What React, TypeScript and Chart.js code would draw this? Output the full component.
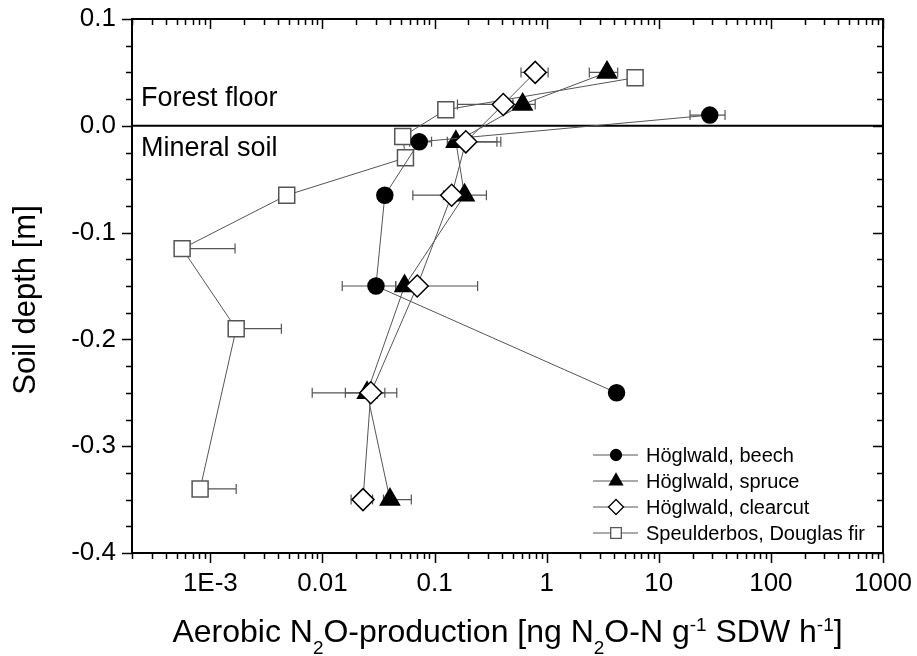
import React, { useEffect, useRef } from 'react';
import { Chart, registerables } from 'chart.js';

Chart.register(...registerables);

const FONT = '"Liberation Sans", Arial, Helvetica, sans-serif';

// ---- Data (x = aerobic N2O production, y = soil depth) ----
const DEPTH_BEECH = [0.01, -0.015, -0.065, -0.15, -0.25];
const N2O_BEECH = [28.5, 0.073, 0.036, 0.03, 4.2];
const LO_BEECH = [19, 0.06, null, 0.015, null];
const HI_BEECH = [39, 0.094, null, 0.045, null];

const DEPTH_SPRUCE = [0.05, 0.02, -0.015, -0.065, -0.15, -0.25, -0.35];
const N2O_SPRUCE = [3.45, 0.61, 0.155, 0.185, 0.054, 0.025, 0.04];
const LO_SPRUCE = [2.4, 0.5, 0.13, 0.064, 0.045, 0.0081, 0.035];
const HI_SPRUCE = [4.3, 0.79, 0.36, 0.29, 0.065, 0.046, 0.062];

const DEPTH_CLEAR = [0.05, 0.02, -0.015, -0.065, -0.15, -0.25, -0.35];
const N2O_CLEAR = [0.79, 0.41, 0.19, 0.142, 0.07, 0.027, 0.023];
const LO_CLEAR = [0.59, 0.16, 0.15, 0.12, 0.05, 0.016, 0.018];
const HI_CLEAR = [1.03, 0.5, 0.39, 0.17, 0.242, 0.036, 0.028];

const DEPTH_DOUG = [0.045, 0.015, -0.01, -0.03, -0.065, -0.115, -0.19, -0.34];
const N2O_DOUG = [6.15, 0.126, 0.052, 0.055, 0.0048, 0.00056, 0.0017, 0.00081];
const LO_DOUG = [5.5, 0.11, 0.045, 0.05, 0.0045, 0.0005, 0.0015, 0.0007];
const HI_DOUG = [6.8, 0.14, 0.06, 0.06, 0.0052, 0.00166, 0.0043, 0.0017];

const SERIES_NAMES = ['Höglwald, beech', 'Höglwald, spruce', 'Höglwald, clearcut', 'Speulderbos, Douglas fir'];

const X_TICKS = [0.001, 0.01, 0.1, 1, 10, 100, 1000];
const X_TICK_LABELS = ['1E-3', '0.01', '0.1', '1', '10', '100', '1000'];
const Y_TICKS = [0.1, 0, -0.1, -0.2, -0.3, -0.4];
const Y_TICK_LABELS = ['0.1', '0.0', '-0.1', '-0.2', '-0.3', '-0.4'];
const X_MIN = 2e-4;
const X_MAX = 1000;
const Y_MIN = -0.4;
const Y_MAX = 0.1;
const Y_MINOR_STEP = 0.025;

const ZONE_LABELS = ['Forest floor', 'Mineral soil'];
const Y_TITLE = 'Soil depth [m]';
// x title with sub/superscripts
const X_TITLE_PARTS: [string, 'n' | 'sub' | 'sup'][] = [
  ['Aerobic N', 'n'], ['2', 'sub'], ['O-production [ng N', 'n'], ['2', 'sub'],
  ['O-N g', 'n'], ['-1', 'sup'], [' SDW h', 'n'], ['-1', 'sup'], [']', 'n'],
];

const LINE_GRAY = '#555';

function pts(xs: number[], ys: number[]) {
  return xs.map((v, i) => ({ x: v, y: ys[i] }));
}

function drawMarker(ctx: CanvasRenderingContext2D, style: string, x: number, y: number, r: number, fill: string, stroke: string, lw: number) {
  ctx.beginPath();
  if (style === 'circle') {
    ctx.arc(x, y, r, 0, Math.PI * 2);
  } else if (style === 'triangle') {
    for (let k = 0; k < 3; k++) {
      const a = (k * 2 * Math.PI) / 3;
      const px = x + Math.sin(a) * r;
      const py = y - Math.cos(a) * r;
      if (k === 0) ctx.moveTo(px, py); else ctx.lineTo(px, py);
    }
    ctx.closePath();
  } else if (style === 'rectRot') {
    ctx.moveTo(x - r, y); ctx.lineTo(x, y - r); ctx.lineTo(x + r, y); ctx.lineTo(x, y + r); ctx.closePath();
  } else {
    const s = Math.SQRT1_2 * r;
    ctx.rect(x - s, y - s, 2 * s, 2 * s);
  }
  ctx.fillStyle = fill;
  ctx.fill();
  ctx.lineWidth = lw;
  ctx.strokeStyle = stroke;
  ctx.stroke();
}

const decorPlugin = {
  id: 'decor',
  beforeDatasetsDraw(chart: any) {
    const { ctx, chartArea: a, scales } = chart;
    const xs = scales.x, ys = scales.y;
    ctx.save();
    // error bars
    chart.data.datasets.forEach((ds: any) => {
      ds.data.forEach((p: any, i: number) => {
        const lo = ds.errLo[i], hi = ds.errHi[i];
        if (lo == null || hi == null) return;
        const py = ys.getPixelForValue(p.y);
        const xl = xs.getPixelForValue(lo);
        const xh = xs.getPixelForValue(hi);
        ctx.strokeStyle = LINE_GRAY;
        ctx.lineWidth = 1.2;
        ctx.beginPath();
        ctx.moveTo(xl, py); ctx.lineTo(xh, py);
        ctx.moveTo(xl, py - 5); ctx.lineTo(xl, py + 5);
        ctx.moveTo(xh, py - 5); ctx.lineTo(xh, py + 5);
        ctx.stroke();
      });
    });
    // zero line
    const y0 = ys.getPixelForValue(0);
    ctx.strokeStyle = '#000';
    ctx.lineWidth = 2;
    ctx.beginPath();
    ctx.moveTo(a.left, y0); ctx.lineTo(a.right, y0);
    ctx.stroke();
    ctx.restore();
  },
  afterDraw(chart: any) {
    const { ctx, chartArea: a, scales } = chart;
    const xs = scales.x, ys = scales.y;
    ctx.save();
    // frame
    ctx.strokeStyle = '#000';
    ctx.lineWidth = 2;
    ctx.strokeRect(a.left, a.top, a.right - a.left, a.bottom - a.top);
    // x ticks
    ctx.lineWidth = 1.5;
    ctx.beginPath();
    for (let d = -4; d <= 3; d++) {
      for (let m = 1; m <= 9; m++) {
        const v = m * Math.pow(10, d);
        if (v < X_MIN * 0.999 || v > X_MAX * 1.001) continue;
        const px = Math.round(xs.getPixelForValue(v)) + 0.5;
        const len = m === 1 ? 10 : 6;
        ctx.moveTo(px, a.bottom); ctx.lineTo(px, a.bottom + len);
        ctx.moveTo(px, a.top); ctx.lineTo(px, a.top + len);
      }
    }
    // y ticks
    const nY = Math.round((Y_MAX - Y_MIN) / Y_MINOR_STEP);
    for (let i = 0; i <= nY; i++) {
      const v = Y_MIN + i * Y_MINOR_STEP;
      const py = Math.round(ys.getPixelForValue(v)) + 0.5;
      const len = i % 4 === 0 ? 10 : 6;
      ctx.moveTo(a.left - len, py); ctx.lineTo(a.left, py);
      ctx.moveTo(a.right - len, py); ctx.lineTo(a.right, py);
    }
    ctx.stroke();

    // zone labels
    ctx.fillStyle = '#000';
    ctx.font = `27px ${FONT}`;
    ctx.textAlign = 'left';
    ctx.textBaseline = 'alphabetic';
    const y0 = ys.getPixelForValue(0);
    ctx.fillText(ZONE_LABELS[0], a.left + 9, y0 - 20);
    ctx.fillText(ZONE_LABELS[1], a.left + 9, y0 + 30);

    // x title
    const mainSize = 32, smallSize = 19;
    let total = 0;
    X_TITLE_PARTS.forEach(([t, k]) => {
      ctx.font = `${k === 'n' ? mainSize : smallSize}px ${FONT}`;
      total += ctx.measureText(t).width;
    });
    let cx = (a.left + a.right) / 2 - total / 2;
    const base = 642;
    X_TITLE_PARTS.forEach(([t, k]) => {
      ctx.font = `${k === 'n' ? mainSize : smallSize}px ${FONT}`;
      const dy = k === 'sub' ? 12 : k === 'sup' ? -11 : 0;
      ctx.fillText(t, cx, base + dy);
      cx += ctx.measureText(t).width;
    });

    // y title
    ctx.save();
    ctx.translate(35, 300);
    ctx.rotate(-Math.PI / 2);
    ctx.font = `31px ${FONT}`;
    ctx.textAlign = 'center';
    ctx.fillText(Y_TITLE, 0, 0);
    ctx.restore();

    // legend
    const lx = a.right - 290;
    const ly = a.bottom - 98;
    chart.data.datasets.forEach((ds: any, i: number) => {
      const yy = ly + i * 26;
      ctx.strokeStyle = LINE_GRAY;
      ctx.lineWidth = 1;
      ctx.beginPath();
      ctx.moveTo(lx, yy); ctx.lineTo(lx + 45, yy);
      ctx.stroke();
      const st = ds.pointStyle;
      const r = st === 'circle' ? 5.5 : 7.5;
      drawMarker(ctx, st, lx + 23, yy, r, ds.pointBackgroundColor, ds.pointBorderColor, 1.3);
      ctx.fillStyle = '#000';
      ctx.font = `20px ${FONT}`;
      ctx.textAlign = 'left';
      ctx.textBaseline = 'middle';
      ctx.fillText(SERIES_NAMES[i], lx + 53, yy + 1);
    });
    ctx.restore();
  },
};

export default function App() {
  const ref = useRef<HTMLCanvasElement>(null);
  useEffect(() => {
    if (!ref.current) return;
    const mk = (i: number, xs: number[], ys: number[], lo: any[], hi: any[], style: string, r: number, fill: string, stroke: string, order: number) => ({
      label: SERIES_NAMES[i],
      data: pts(xs, ys),
      errLo: lo,
      errHi: hi,
      order,
      showLine: true,
      borderColor: LINE_GRAY,
      borderWidth: 1,
      pointStyle: style,
      pointRadius: r,
      pointHoverRadius: r,
      pointBackgroundColor: fill,
      pointBorderColor: stroke,
      pointBorderWidth: 1.5,
      clip: false,
    });
    const chart = new Chart(ref.current, {
      type: 'scatter',
      data: {
        datasets: [
          mk(0, N2O_BEECH, DEPTH_BEECH, LO_BEECH, HI_BEECH, 'circle', 8, '#000', '#000', 1),
          mk(1, N2O_SPRUCE, DEPTH_SPRUCE, LO_SPRUCE, HI_SPRUCE, 'triangle', 11, '#000', '#000', 2),
          mk(2, N2O_CLEAR, DEPTH_CLEAR, LO_CLEAR, HI_CLEAR, 'rectRot', 11, '#fff', '#000', 0),
          mk(3, N2O_DOUG, DEPTH_DOUG, LO_DOUG, HI_DOUG, 'rect', 11.3, '#fff', '#555', 3),
        ] as any,
      },
      options: {
        animation: false,
        responsive: true,
        maintainAspectRatio: false,
        layout: { padding: { left: 0, top: 19, right: 34, bottom: 0 } },
        plugins: { legend: { display: false }, tooltip: { enabled: false } },
        events: [],
        scales: {
          x: {
            type: 'logarithmic',
            position: 'bottom',
            min: X_MIN,
            max: X_MAX,
            grid: { display: false, drawTicks: false },
            border: { display: false },
            afterBuildTicks: (s: any) => { s.ticks = X_TICKS.map((v) => ({ value: v })); },
            afterFit: (s: any) => { s.height = 103; s.paddingLeft = 0; s.paddingRight = 0; },
            ticks: {
              autoSkip: false,
              maxRotation: 0,
              padding: 15,
              color: '#000',
              font: { family: FONT, size: 26 },
              callback: (v: any) => {
                const idx = X_TICKS.findIndex((t) => Math.abs(Math.log10(t) - Math.log10(Number(v))) < 1e-6);
                return idx >= 0 ? X_TICK_LABELS[idx] : '';
              },
            },
          },
          y: {
            type: 'linear',
            min: Y_MIN,
            max: Y_MAX,
            grid: { display: false, drawTicks: false },
            border: { display: false },
            afterBuildTicks: (s: any) => { s.ticks = Y_TICKS.map((v) => ({ value: v })); },
            afterFit: (s: any) => { s.width = 132; s.paddingTop = 0; s.paddingBottom = 0; },
            ticks: {
              autoSkip: false,
              padding: 16,
              color: '#000',
              font: { family: FONT, size: 26 },
              callback: (v: any) => {
                const idx = Y_TICKS.findIndex((t) => Math.abs(t - Number(v)) < 1e-6);
                return idx >= 0 ? Y_TICK_LABELS[idx] : '';
              },
            },
          },
        },
      } as any,
      plugins: [decorPlugin],
    });
    return () => chart.destroy();
  }, []);
  return (
    <div style={{ position: 'absolute', left: 0, top: 0, width: 917, height: 656, background: '#fff' }}>
      <canvas ref={ref} />
    </div>
  );
}
